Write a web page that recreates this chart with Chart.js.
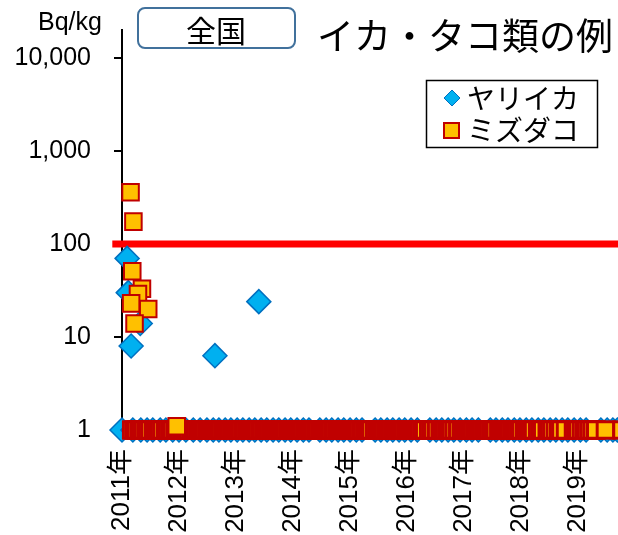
<!DOCTYPE html>
<html>
<head>
<meta charset="utf-8">
<script src="https://cdn.jsdelivr.net/npm/chart.js@4.4.1/dist/chart.umd.min.js"></script>
<style>
  body { margin: 0; background: #fff; overflow: hidden; }
  #fishChart { display: block; }
</style>
</head>
<body>
<canvas id="fishChart" width="618" height="535"></canvas>
<script>
// ヤリイカ: detected results (decimal year, Bq/kg)
const squidDates = [2011.09, 2011.11, 2011.16, 2011.32, 2012.63, 2013.40];
const squidValues = [70, 30, 8, 14, 6.3, 24];
// ヤリイカ: not detected, plotted at 1 Bq/kg
const squidNdDates = [
    2011.00, 2011.19, 2011.33, 2011.44, 2011.54, 2011.67, 2011.77, 2011.89,
    2012.00, 2012.12, 2012.25, 2012.37, 2012.49, 2012.60, 2012.70, 2012.81, 2012.91,
    2013.02, 2013.12, 2013.23, 2013.33, 2013.44, 2013.54, 2013.65, 2013.75, 2013.86, 2013.96,
    2014.07, 2014.18, 2014.28, 2014.47, 2014.58, 2014.68, 2014.79, 2014.89,
    2015.00, 2015.11, 2015.21, 2015.44, 2015.54, 2015.65, 2015.75, 2015.86, 2015.96,
    2016.07, 2016.18, 2016.40, 2016.51, 2016.61, 2016.72, 2016.82, 2016.93,
    2017.04, 2017.14, 2017.25, 2017.46, 2017.56, 2017.67, 2017.77, 2017.88, 2017.98,
    2018.09, 2018.19, 2018.30, 2018.40, 2018.51, 2018.61, 2018.72, 2018.82, 2018.93,
    2019.04, 2019.14, 2019.40, 2019.51, 2019.61, 2019.69
];
// ミズダコ: detected results
const octoDates = [2011.15, 2011.20, 2011.18, 2011.35, 2011.28, 2011.16, 2011.46, 2011.22, 2011.96];
const octoValues = [360, 174, 51, 33, 29, 23, 20, 14, 1.1];
// ミズダコ: not detected, plotted at 1 Bq/kg
const octoNdDates = [
    2011.17, 2011.22, 2011.25, 2011.30, 2011.33, 2011.37, 2011.42, 2011.45, 2011.49, 2011.55,
    2011.58, 2011.62, 2011.66, 2011.70, 2011.76, 2011.80, 2011.84, 2011.88, 2011.93, 2011.97,
    2012.01, 2012.05, 2012.10, 2012.13, 2012.17, 2012.22, 2012.25, 2012.29, 2012.33, 2012.38,
    2012.41, 2012.45, 2012.49, 2012.53, 2012.57, 2012.61, 2012.65, 2012.69, 2012.73, 2012.77,
    2012.81, 2012.85, 2012.89, 2012.93, 2012.97,
    2013.01, 2013.04, 2013.08, 2013.12, 2013.15, 2013.19, 2013.23, 2013.27, 2013.30, 2013.34,
    2013.38, 2013.42, 2013.45, 2013.49, 2013.53, 2013.57, 2013.61, 2013.64, 2013.68, 2013.72,
    2013.76, 2013.79, 2013.83, 2013.87, 2013.91, 2013.95, 2013.98,
    2014.02, 2014.06, 2014.10, 2014.13, 2014.17, 2014.21, 2014.25, 2014.28, 2014.32, 2014.36,
    2014.40, 2014.43, 2014.47, 2014.51, 2014.55, 2014.58, 2014.62, 2014.66, 2014.70, 2014.73,
    2014.77, 2014.81, 2014.85, 2014.88, 2014.92, 2014.96,
    2015.00, 2015.04, 2015.07, 2015.11, 2015.15, 2015.19, 2015.22, 2015.26, 2015.30, 2015.34,
    2015.37, 2015.43, 2015.47, 2015.51, 2015.55, 2015.59, 2015.63, 2015.67, 2015.71, 2015.75,
    2015.79, 2015.83, 2015.86, 2015.90, 2015.94, 2015.98,
    2016.02, 2016.06, 2016.10, 2016.14, 2016.18, 2016.22, 2016.26, 2016.31, 2016.38, 2016.42,
    2016.46, 2016.52, 2016.58, 2016.62, 2016.66, 2016.70, 2016.74, 2016.78, 2016.83, 2016.89,
    2016.95, 2016.99,
    2017.03, 2017.07, 2017.11, 2017.15, 2017.19, 2017.23, 2017.27, 2017.31, 2017.35, 2017.39,
    2017.43, 2017.47, 2017.51, 2017.55, 2017.61, 2017.65, 2017.69, 2017.72, 2017.76, 2017.80,
    2017.84, 2017.88, 2017.92, 2017.96,
    2018.00, 2018.06, 2018.10, 2018.14, 2018.18, 2018.22, 2018.29, 2018.33, 2018.38, 2018.46,
    2018.50, 2018.54, 2018.60, 2018.66, 2018.70, 2018.78, 2018.92, 2018.96,
    2019.00, 2019.06, 2019.11, 2019.15, 2019.20, 2019.25, 2019.31, 2019.48, 2019.77
];
const ndLevel = 1;
const limitValue = 100;            // 基準値 100 Bq/kg
const limitFrom = 2010.83;
const limitTo = 2019.7;
const yearTicks = [2011, 2012, 2013, 2014, 2015, 2016, 2017, 2018, 2019];
const valueTicks = [1, 10, 100, 1000, 10000];

const tickFont = {family: "'Liberation Sans', 'Noto Sans CJK JP', sans-serif", size: 25};
const jpFont = '"Noto Sans CJK JP", sans-serif';

const squareStyle = {
    pointStyle: 'rect', pointRadius: 11.7, pointHoverRadius: 11.7,
    backgroundColor: '#FFC000', borderColor: '#C00000', borderWidth: 2, clip: false
};
const diamondStyle = {
    pointStyle: 'rectRot', pointRadius: 12, pointHoverRadius: 12,
    backgroundColor: '#00B0F0', borderColor: '#0070C0', borderWidth: 1.5, clip: false
};

const data = {
    datasets: [
        Object.assign({label: 'ミズダコ', data: octoDates.map((d, i) => ({x: d, y: octoValues[i]}))}, squareStyle),
        Object.assign({label: 'ミズダコ ND', data: octoNdDates.map(d => ({x: d, y: ndLevel}))}, squareStyle, {borderWidth: 3}),
        Object.assign({label: 'ヤリイカ', data: squidDates.map((d, i) => ({x: d, y: squidValues[i]}))}, diamondStyle),
        Object.assign({label: 'ヤリイカ ND', data: squidNdDates.map(d => ({x: d, y: ndLevel}))}, diamondStyle),
        {
            label: '基準値', type: 'line',
            data: [{x: limitFrom, y: limitValue}, {x: limitTo, y: limitValue}],
            borderColor: '#FF0000', borderWidth: 7, pointRadius: 0, clip: false
        }
    ]
};

// title box, title and legend
const decorations = {
    id: 'decorations',
    afterDraw(chart) {
        const ctx = chart.ctx;
        ctx.save();
        // 全国 box
        ctx.beginPath();
        ctx.roundRect(138, 8, 157, 40, 7);
        ctx.fillStyle = '#fff';
        ctx.fill();
        ctx.lineWidth = 2;
        ctx.strokeStyle = '#41719C';
        ctx.stroke();
        ctx.fillStyle = '#000';
        ctx.textAlign = 'center';
        ctx.textBaseline = 'middle';
        ctx.font = '30px ' + jpFont;
        ctx.fillText('全国', 216, 31);
        ctx.font = '37px ' + jpFont;
        ctx.fillText('イカ・タコ類の例', 465, 36);
        // Bq/kg
        ctx.font = "25px 'Liberation Sans', sans-serif";
        ctx.fillText('Bq/kg', 70, 23);

        // legend
        ctx.fillStyle = '#fff';
        ctx.fillRect(426, 80, 172, 68);
        ctx.lineWidth = 1.5;
        ctx.strokeStyle = '#000';
        ctx.strokeRect(426.5, 80.5, 171, 67);
        ctx.beginPath();
        ctx.moveTo(452, 90);
        ctx.lineTo(460, 98);
        ctx.lineTo(452, 106);
        ctx.lineTo(444, 98);
        ctx.closePath();
        ctx.fillStyle = '#00B0F0';
        ctx.fill();
        ctx.lineWidth = 1;
        ctx.strokeStyle = '#0070C0';
        ctx.stroke();
        ctx.fillStyle = '#FFC000';
        ctx.fillRect(444, 123, 15, 15);
        ctx.lineWidth = 2;
        ctx.strokeStyle = '#C00000';
        ctx.strokeRect(444, 123, 15, 15);
        ctx.fillStyle = '#000';
        ctx.textAlign = 'left';
        ctx.font = '28px ' + jpFont;
        ctx.fillText('ヤリイカ', 467, 98);
        ctx.fillText('ミズダコ', 467, 130);
        ctx.restore();
    }
};

const config = {
    type: 'scatter',
    data: data,
    options: {
        responsive: false,
        animation: false,
        events: [],
        layout: {autoPadding: false, padding: {top: 30, left: 0, right: 0, bottom: 0}},
        plugins: {legend: {display: false}, tooltip: {enabled: false}},
        scales: {
            x: {
                type: 'linear',
                min: 2011,
                max: 2019.7,
                grid: {display: false},
                border: {display: false},
                afterBuildTicks: function (scale) {
                    scale.ticks = yearTicks.map(v => ({value: v}));
                },
                afterFit: function (scale) {
                    scale.height = 105;
                    scale.paddingLeft = 0;
                    scale.paddingRight = 0;
                },
                ticks: {
                    autoSkip: false,
                    minRotation: 90,
                    maxRotation: 90,
                    padding: 11,
                    color: '#000',
                    font: Object.assign({}, tickFont, {size: 26}),
                    callback: v => v + '年'
                }
            },
            y: {
                type: 'logarithmic',
                min: 1,
                max: 20000,
                afterBuildTicks: function (scale) {
                    scale.ticks = valueTicks.map(v => ({value: v}));
                },
                afterFit: function (scale) {
                    scale.width = 122;
                    scale.paddingTop = 0;
                    scale.paddingBottom = 0;
                },
                grid: {drawOnChartArea: false, tickLength: 8, color: '#000', lineWidth: 2},
                border: {color: '#000', width: 2},
                ticks: {
                    padding: 23,
                    color: '#000',
                    font: tickFont,
                    callback: v => v.toLocaleString('en-US')
                }
            }
        }
    },
    plugins: [decorations]
};

let fishChart = new Chart(document.getElementById('fishChart'), config);
</script>
</body>
</html>
